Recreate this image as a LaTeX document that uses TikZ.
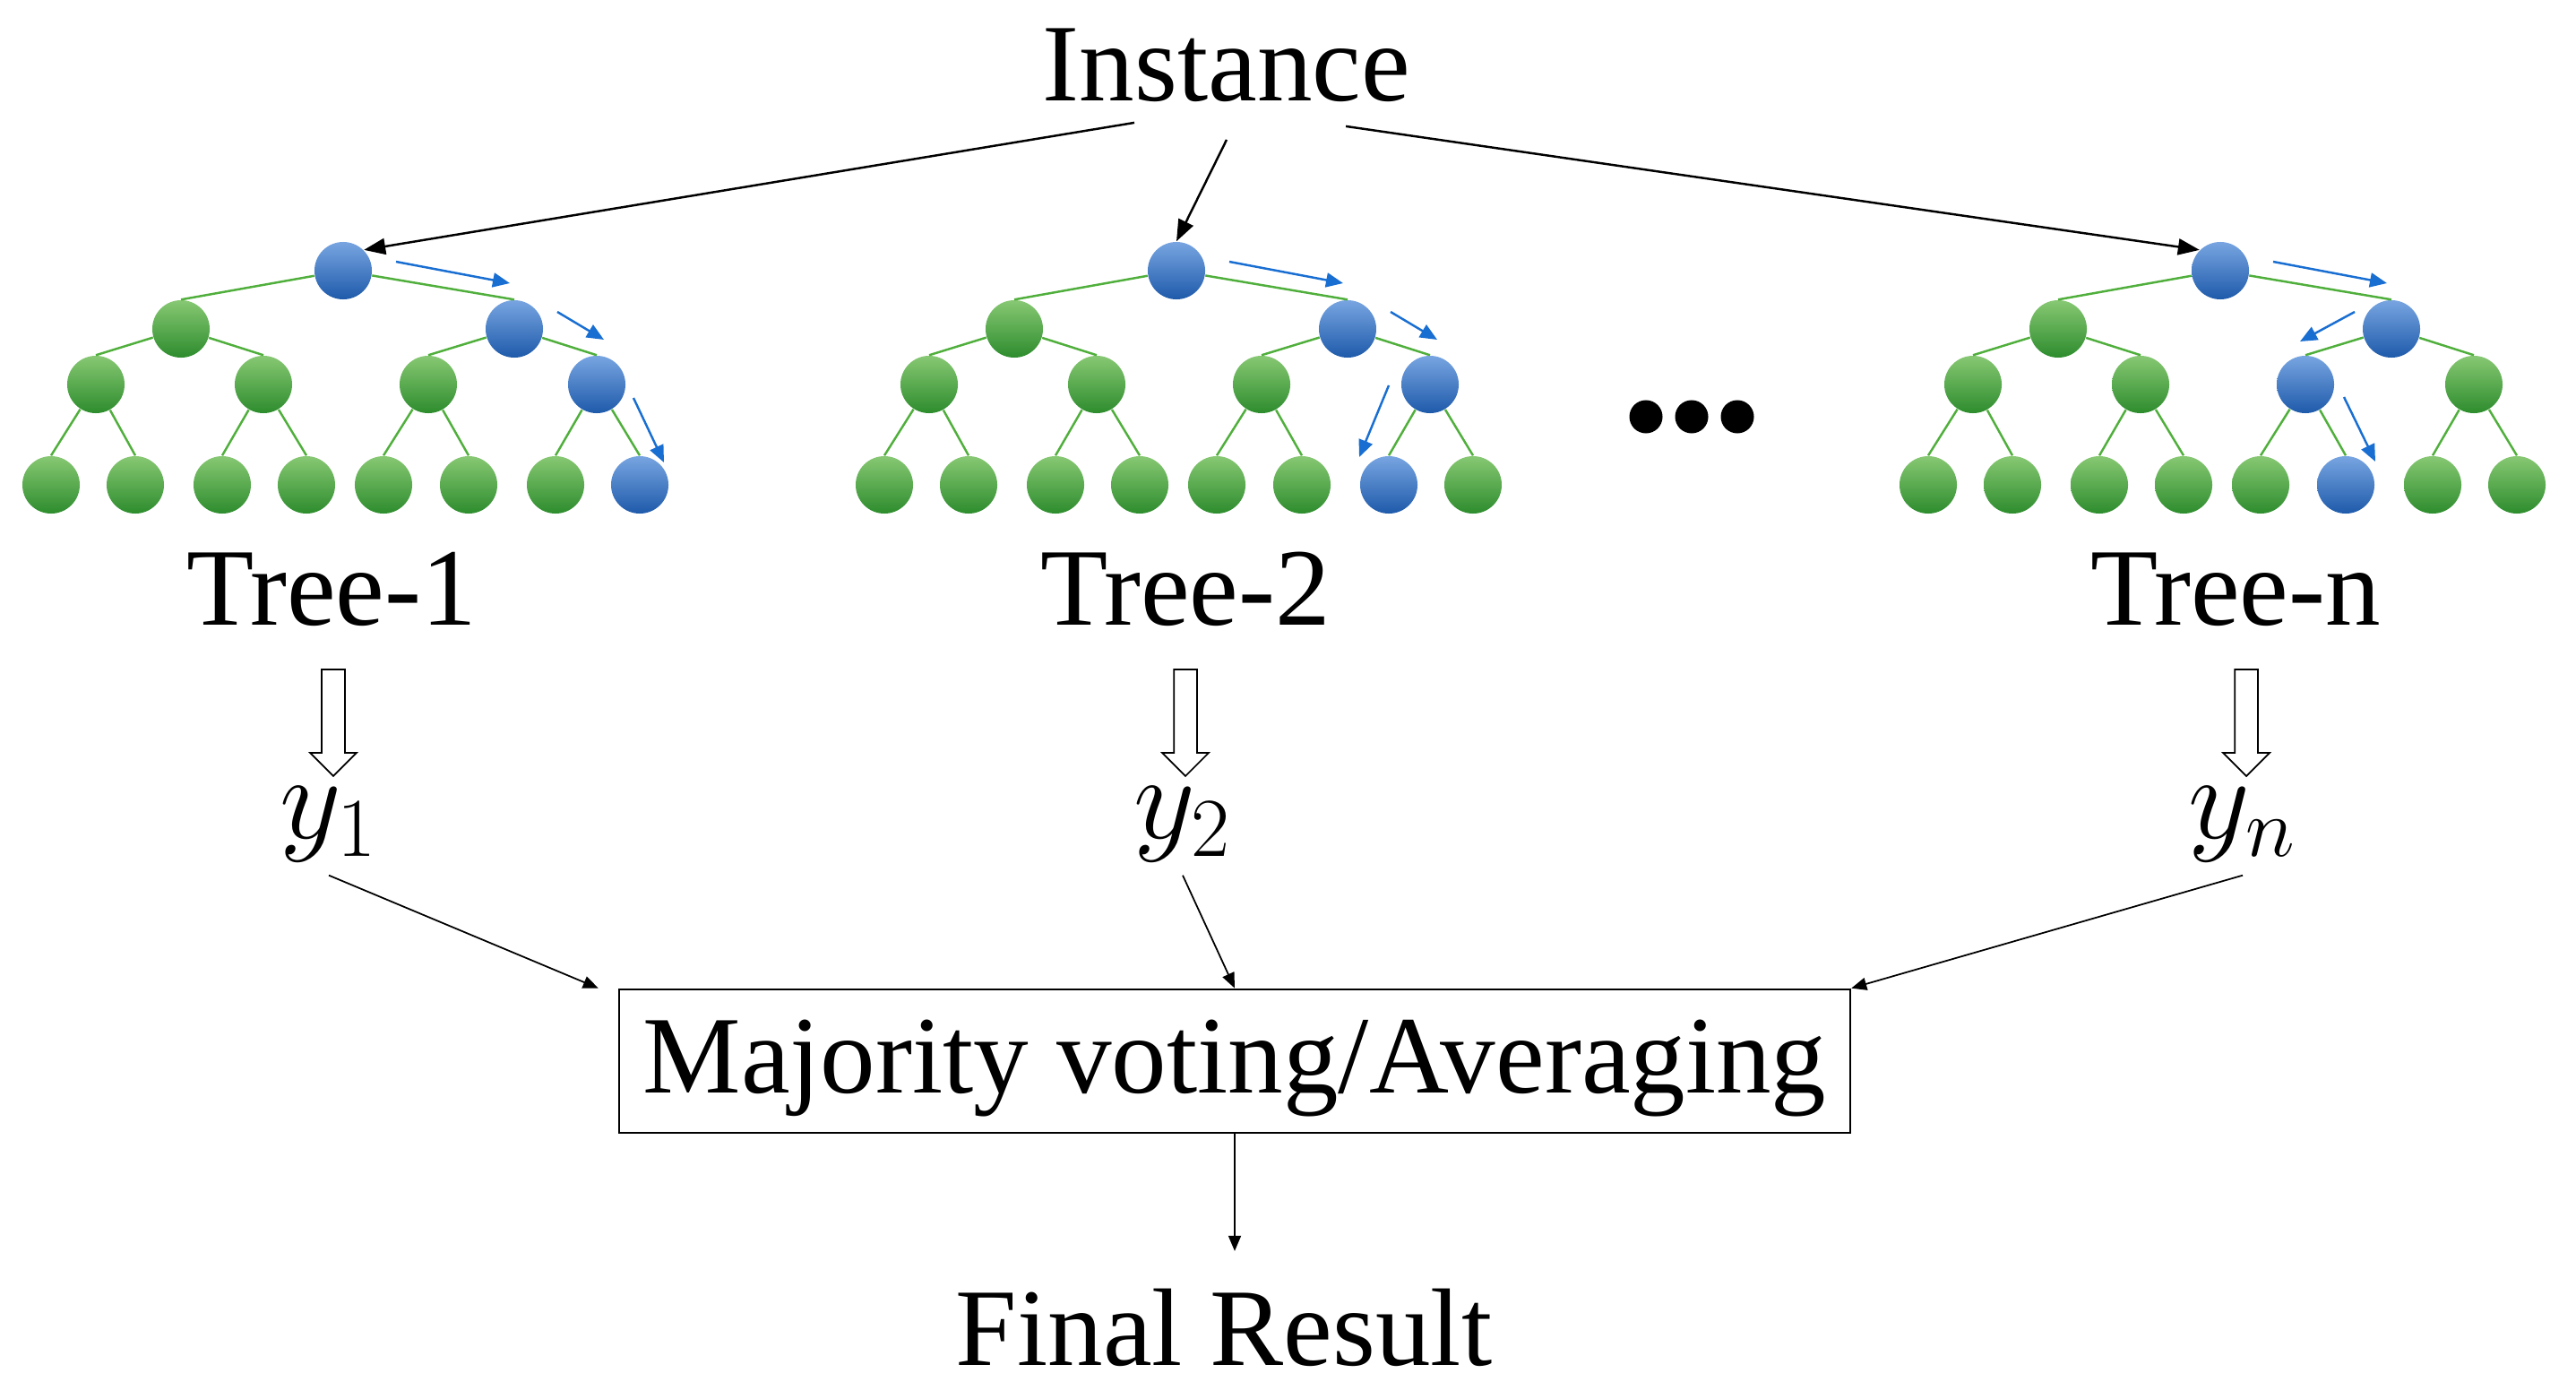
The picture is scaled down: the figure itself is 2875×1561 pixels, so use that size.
\RequirePackage{fix-cm}
\documentclass[tikz,border=0pt]{standalone}
\usepackage{fontspec}
\setmainfont{Liberation Serif}
\usepackage{tikz}
\usetikzlibrary{arrows.meta, positioning, shapes.arrows}

\definecolor{gtop}{RGB}{135,200,115}
\definecolor{gbot}{RGB}{45,140,45}
\definecolor{btop}{RGB}{120,165,225}
\definecolor{bbot}{RGB}{30,90,170}
\definecolor{branchgreen}{RGB}{80,175,60}
\definecolor{walkblue}{RGB}{25,110,210}

\tikzset{
  big/.style={font=\fontsize{35}{42}\selectfont, inner sep=0.41cm},
  gnode/.style={circle, minimum size=0.64cm, inner sep=0pt, top color=gtop, bottom color=gbot},
  bnode/.style={circle, minimum size=0.64cm, inner sep=0pt, top color=btop, bottom color=bbot},
  branch/.style={draw=branchgreen, line width=0.7pt},
  walk/.style={draw=walkblue, line width=0.7pt, -{Triangle[length=0.19cm, width=0.16cm]}},
  feed/.style={draw=black, line width=0.7pt, -{Triangle[length=0.24cm, width=0.18cm]}},
  vote/.style={draw=black, line width=0.5pt, -{Triangle[length=0.17cm, width=0.14cm]}},
  hollow/.style={single arrow, draw=black, line width=0.5pt, fill=white, inner sep=0.12cm,
    single arrow head extend=0.13cm, single arrow tip angle=90, minimum height=1.19cm},
  ylab/.style={font=\fontsize{38}{44}\selectfont, inner sep=0.15cm},
  votebox/.style={big, draw=black, line width=0.75pt, minimum width=13.73cm, minimum height=1.6cm,
    inner sep=0pt, text height=0.96cm, text depth=0.26cm},
  dot/.style={circle, fill=black, minimum size=0.37cm, inner sep=0pt}
}

\begin{document}
\begin{tikzpicture}[x=0.01cm, y=-0.01cm]
  \useasboundingbox (0,0) rectangle (2875,1561);

  % Instance
  \node[big, anchor=base] (inst) at (1369,113) {Instance};

  % the three trees
  \foreach \t/\dx/\pb/\pc/\pd in {1/0/2/4/8, 2/930/2/4/7, n/2095/2/3/6} {
    \node[bnode] (t\t-r) at (\dx+383,302) {};
    \foreach \i/\x in {1/202, 2/574} {
      \ifnum\i=\pb\relax\def\sty{bnode}\else\def\sty{gnode}\fi
      \node[\sty] (t\t-b\i) at (\dx+\x,367) {};
      \draw[branch] (t\t-r) -- (t\t-b\i.north);
    }
    \foreach \j/\x in {1/107, 2/294, 3/478, 4/666} {
      \pgfmathtruncatemacro\p{(\j+1)/2}
      \ifnum\j=\pc\relax\def\sty{bnode}\else\def\sty{gnode}\fi
      \node[\sty] (t\t-c\j) at (\dx+\x,429) {};
      \draw[branch] (t\t-b\p) -- (t\t-c\j.north);
    }
    \foreach \k/\x in {1/57, 2/151, 3/248, 4/342, 5/428, 6/523, 7/620, 8/714} {
      \pgfmathtruncatemacro\p{(\k+1)/2}
      \ifnum\k=\pd\relax\def\sty{bnode}\else\def\sty{gnode}\fi
      \node[\sty] (t\t-l\k) at (\dx+\x,541) {};
      \draw[branch] (t\t-c\p) -- (t\t-l\k.north);
    }
  }

  % decision paths
  \draw[walk] ([shift={(59,-10)}]t1-r.center) -- ([shift={(-5,-51)}]t1-b2.center);
  \draw[walk] ([shift={(48,-19)}]t1-b2.center) -- ([shift={(8,-50)}]t1-c4.center);
  \draw[walk] ([shift={(41,15)}]t1-c4.center) -- ([shift={(27,-25)}]t1-l8.center);
  \draw[walk] ([shift={(59,-10)}]t2-r.center) -- ([shift={(-5,-51)}]t2-b2.center);
  \draw[walk] ([shift={(48,-19)}]t2-b2.center) -- ([shift={(8,-50)}]t2-c4.center);
  \draw[walk] ([shift={(-46,1)}]t2-c4.center) -- ([shift={(-33,-31)}]t2-l7.center);
  \draw[walk] ([shift={(59,-10)}]tn-r.center) -- ([shift={(-5,-51)}]tn-b2.center);
  \draw[walk] ([shift={(-41,-19)}]tn-b2.center) -- ([shift={(-6,-48)}]tn-c3.center);
  \draw[walk] ([shift={(43,14)}]tn-c3.center) -- ([shift={(33,-26)}]tn-l6.center);

  \foreach \d/\x in {1/1837, 2/1888, 3/1939}
    \node[dot] (dot\d) at (\x,465) {};

  % Instance to roots
  \draw[feed] ([xshift=-1.03cm, yshift=0.19cm]inst.south) -- (t1-r.north east);
  \draw[feed] (inst.south) -- (t2-r.north);
  \draw[feed] ([xshift=1.33cm, yshift=0.15cm]inst.south) -- (tn-r.north west);

  % tree names and outputs
  \node[big, anchor=base] (lab1) at (370,697) {Tree-1};
  \node[big, anchor=base] (lab2) at (1323,697) {Tree-2};
  \node[big, anchor=base] (labn) at (2495,697) {Tree-n};
  \node[hollow, rotate=-90] (h1) at (372,800) {};
  \node[hollow, rotate=-90] (h2) at (1323,800) {};
  \node[hollow, rotate=-90] (hn) at (2507,800) {};
  \node[ylab, anchor=base] (y1) at (367,935) {$y_1$};
  \node[ylab, anchor=base] (y2) at (1320,935) {$y_2$};
  \node[ylab, anchor=base] (yn) at (2503,935) {$y_n$};

  % voting
  \node[votebox] (vote) at (1378,1184) {Majority voting/Averaging};
  \draw[vote] (y1.south) -- ([xshift=-0.22cm]vote.north west);
  \draw[vote] (y2.south) -- (vote.north);
  \draw[vote] (yn.south) -- (vote.north east);

  \node[big, anchor=base] (final) at (1366,1523) {Final Result};
  \draw[vote] (vote.south) -- (vote.south |- final.north);
\end{tikzpicture}
\end{document}
